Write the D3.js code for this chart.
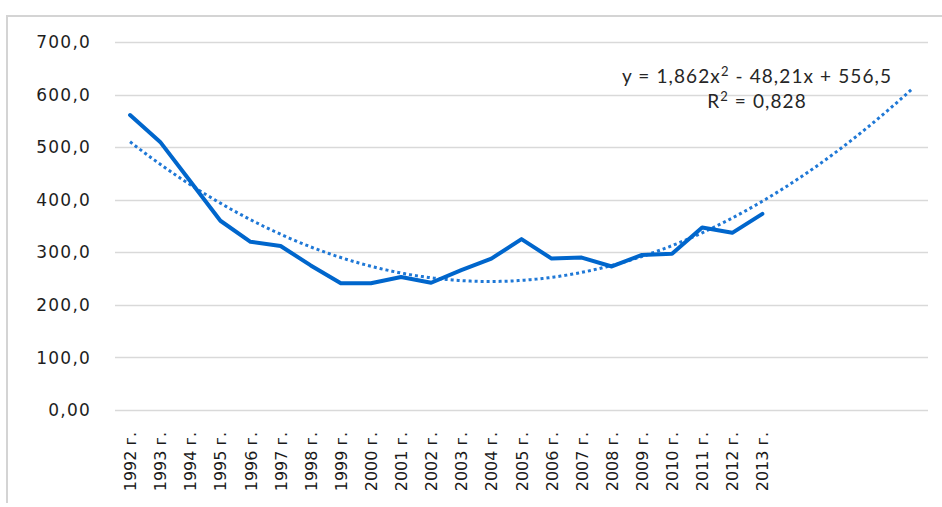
<!DOCTYPE html>
<html>
<head>
<meta charset="utf-8">
<script src="https://cdn.jsdelivr.net/npm/d3@7"></script>
<style>
  html, body { margin: 0; padding: 0; background: #fff; }
  svg { display: block; }
</style>
</head>
<body>
<svg id="chart" width="942" height="507"></svg>
<script>
// ---- data ----
const years = ["1992 г.","1993 г.","1994 г.","1995 г.","1996 г.","1997 г.","1998 г.","1999 г.","2000 г.","2001 г.","2002 г.","2003 г.","2004 г.","2005 г.","2006 г.","2007 г.","2008 г.","2009 г.","2010 г.","2011 г.","2012 г.","2013 г."];
const values = [561, 510, 435, 360, 320, 312, 275, 241, 241, 253, 242, 266, 288, 325, 288, 290, 273, 295, 297, 347, 337, 373];
const yTicks = [0, 100, 200, 300, 400, 500, 600, 700];
const yTickLabels = ["0,00", "100,0", "200,0", "300,0", "400,0", "500,0", "600,0", "700,0"];
const trendCoef = [556.5, -48.21, 1.862]; // c0 + c1*x + c2*x^2
const forwardPeriods = 5;
const equationText = ["y = 1,862x", "2", " - 48,21x + 556,5"];
const r2Text = ["R", "2", " = 0,828"];

// ---- layout ----
const svg = d3.select("#chart");
const plotLeft = 115, plotRight = 928, plotTop = 42, plotBottom = 410;
const nSlots = years.length + forwardPeriods;

const x = d3.scaleLinear().domain([0.5, nSlots + 0.5]).range([plotLeft, plotRight]);
const y = d3.scaleLinear().domain([0, 700]).range([plotBottom, plotTop]);

// frame
svg.append("path")
  .attr("d", `M7,503 L7,16 L942,16`)
  .attr("fill", "none").attr("stroke", "#d4d4d4").attr("stroke-width", 2);

// gridlines
svg.append("g").selectAll("line").data(yTicks).join("line")
  .attr("x1", plotLeft).attr("x2", plotRight)
  .attr("y1", d => Math.round(y(d)) + 0.5).attr("y2", d => Math.round(y(d)) + 0.5)
  .attr("stroke", "#d9d9d9").attr("stroke-width", 1.5);

// y labels
svg.append("g").selectAll("text").data(yTicks).join("text")
  .attr("x", 91).attr("y", d => y(d))
  .attr("dy", "0.36em")
  .attr("text-anchor", "end")
  .attr("font-family", "DejaVu Sans, Verdana, sans-serif")
  .attr("font-size", 17)
  .attr("letter-spacing", 1.2)
  .attr("fill", "#1e1e1e")
  .text((d, i) => yTickLabels[i]);

// x labels (rotated)
svg.append("g").selectAll("text").data(years).join("text")
  .attr("transform", (d, i) => `translate(${x(i + 1) + 6},432) rotate(-90)`)
  .attr("text-anchor", "end")
  .attr("font-family", "DejaVu Sans, Verdana, sans-serif")
  .attr("font-size", 16)
  .attr("fill", "#1a1a1a")
  .text(d => d);

// trend line
const trendX = d3.range(1, nSlots + 0.001, 0.1);
const trendLine = d3.line()
  .x(t => x(t))
  .y(t => y(trendCoef[0] + trendCoef[1] * t + trendCoef[2] * t * t));
svg.append("path")
  .datum(trendX)
  .attr("d", trendLine)
  .attr("fill", "none")
  .attr("stroke", "#1f78d6")
  .attr("stroke-width", 3)
  .attr("stroke-dasharray", "3 3");

// data line
const line = d3.line()
  .x((d, i) => x(i + 1))
  .y(d => y(d));
svg.append("path")
  .datum(values)
  .attr("d", line)
  .attr("fill", "none")
  .attr("stroke", "#0066cc")
  .attr("stroke-width", 4)
  .attr("stroke-linejoin", "round")
  .attr("stroke-linecap", "round");

// equation label
function labelText(txt, yPos) {
  const t = svg.append("text")
    .attr("x", 757).attr("y", yPos)
    .attr("text-anchor", "middle")
    .attr("font-family", "Lato, Carlito, sans-serif")
    .attr("font-size", 19)
    .attr("letter-spacing", 1.1)
    .attr("fill", "#262626");
  t.append("tspan").text(txt[0]);
  t.append("tspan").attr("font-size", 13).attr("dy", -7).text(txt[1]);
  t.append("tspan").attr("dy", 7).text(txt[2]);
}
labelText(equationText, 83);
labelText(r2Text, 108);
</script>
</body>
</html>
